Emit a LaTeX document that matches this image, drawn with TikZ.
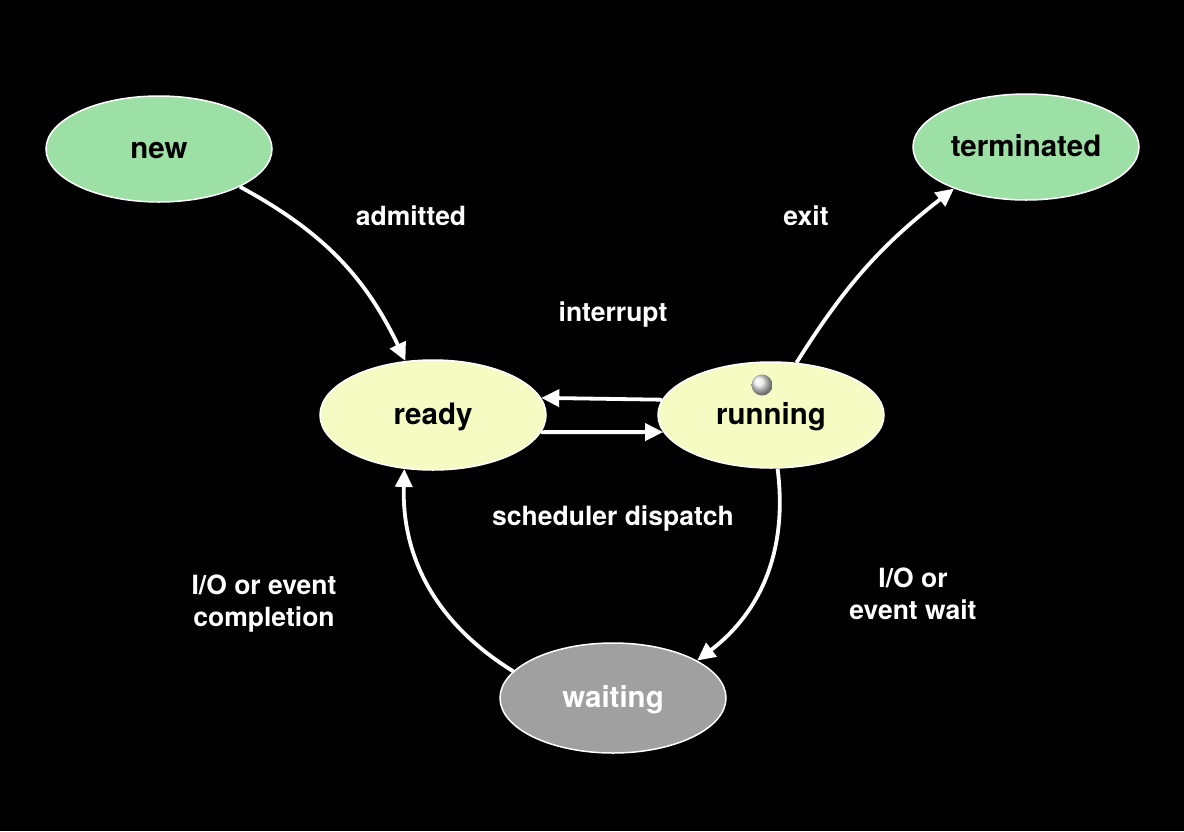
\documentclass[tikz,border=0pt]{standalone}
\usepackage{fontspec}
\setmainfont{TeX Gyre Heros}
\usetikzlibrary{shapes.geometric,arrows.meta}

\definecolor{newgreen}{HTML}{9DE0A6}
\definecolor{runyellow}{HTML}{F6FBC4}
\definecolor{waitgray}{HTML}{A0A0A0}

\begin{document}
\begin{tikzpicture}[
            x=1pt, y=-1pt,
            state/.style={ellipse, draw=white, line width=1.5pt,
                minimum width=226pt, minimum height=106pt, inner sep=0pt,
                text height=20pt, text depth=1pt,
                font=\fontsize{29.5}{34}\selectfont\bfseries},
            lbl/.style={text=white, align=center,
                font=\fontsize{26.5}{32}\selectfont\bfseries},
            trans/.style={draw=white, line width=3.8pt,
                -{Triangle[length=18pt,width=17pt]}}
        ]
            % background
            \fill[black] (0, 0) rectangle (1184, 831);
            \useasboundingbox (0, 0) rectangle (1184, 831);

            % states
            \node[state, fill=newgreen] (new) at (159, 149) {new};
            \node[state, fill=newgreen] (terminated) at (1026, 147) {terminated};
            \node[state, fill=runyellow, minimum height=110pt] (ready) at (433, 415) {ready};
            \node[state, fill=runyellow] (running) at (771, 415) {running};
            \node[state, fill=waitgray, text=white, minimum height=110pt] (waiting) at (613, 698) {waiting};

            % pointer dot
            \shade[ball color=gray!15] (762, 385) circle (10.5);

            % transitions
            \draw[trans] (new.-25) to[bend left=18] (ready.117);
            \draw[trans] (running.64) to[bend left=10] (terminated.210);
            \draw[trans] (running.172) -- (ready.9);
            \draw[trans] (ready.-9) -- (running.189);
            \draw[trans] (running.-83) to[bend left=30] (waiting.24);
            \draw[trans] (waiting.165) to[bend left=30] (ready.242);

            % labels
            \node[lbl] (admitted) at (411, 216) {admitted};
            \node[lbl] (exit) at (806, 216) {exit};
            \node[lbl] (interrupt) at (613, 315) {interrupt};
            \node[lbl] (dispatch) at (613, 519) {scheduler dispatch};
            \node[lbl] (wait) at (913, 594) {I/O or\\event wait};
            \node[lbl] (completion) at (264, 604) {I/O or event\\completion};
        \end{tikzpicture}
\end{document}
